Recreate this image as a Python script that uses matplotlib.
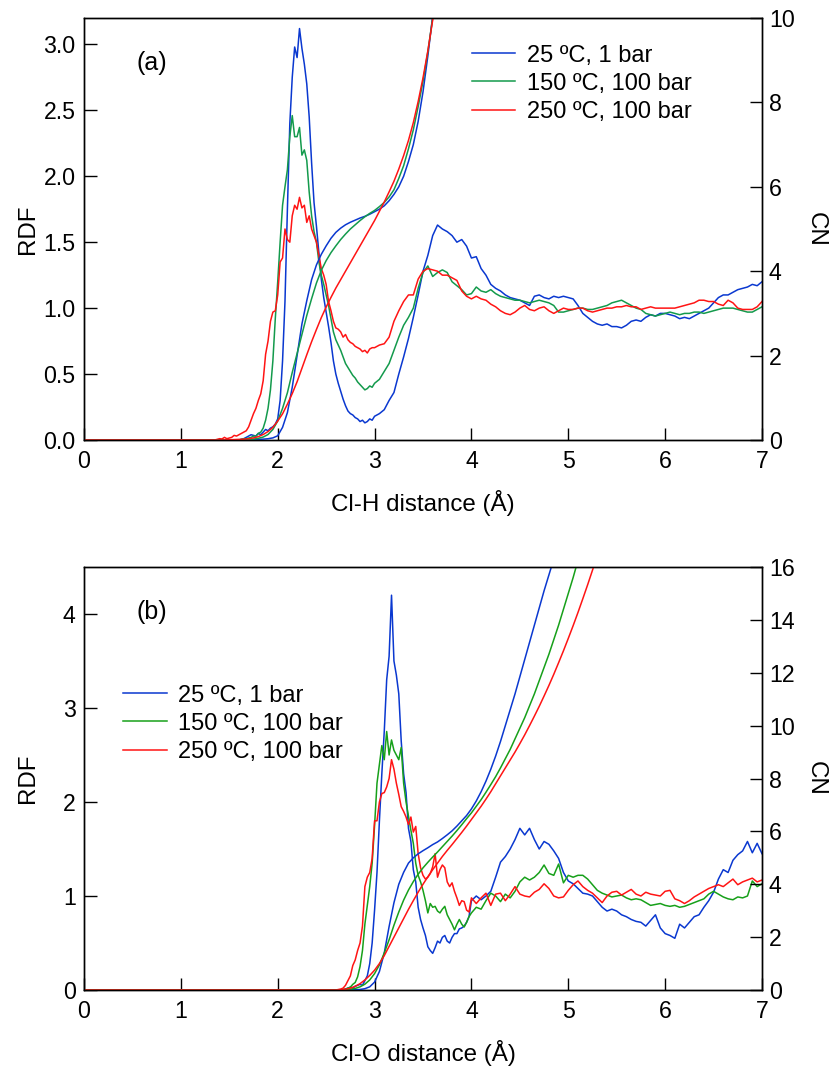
import numpy as np
import matplotlib
matplotlib.use('Agg')
import matplotlib.pyplot as plt
from matplotlib.ticker import FormatStrFormatter

plt.rcParams['font.family'] = ['Liberation Sans', 'DejaVu Sans']

labels = ['25 ºC, 1 bar', '150 ºC, 100 bar', '250 ºC, 100 bar']

# ---------------- Panel (a): Cl-H ----------------
rdf_a_x = np.concatenate([[0.0],
                          np.round(np.arange(1.30, 3.0001, 0.025), 3),
                          np.round(np.arange(3.05, 7.0001, 0.05), 3)])

rdf_a_blue = [0.0,
    0, 0, 0, 0, 0, 0, 0, 0, 0, 0,
    0, 0, 0.0, 0.005, 0.01, 0.02, 0.03, 0.04, 0.035, 0.03,
    0.05, 0.04, 0.06, 0.08, 0.07, 0.09, 0.1, 0.12, 0.16, 0.3,
    0.6, 1.05, 1.75, 2.4, 2.75, 2.98, 2.9, 3.12, 2.97, 2.85,
    2.7, 2.45, 2.1, 1.8, 1.62, 1.42, 1.22, 1.08, 0.97, 0.86,
    0.74, 0.6, 0.5, 0.43, 0.37, 0.31, 0.26, 0.22, 0.2, 0.19,
    0.17, 0.16, 0.14, 0.15, 0.13, 0.14, 0.16, 0.15, 0.18,
    0.2, 0.23, 0.3, 0.36, 0.5, 0.63, 0.77, 0.93, 1.1, 1.28,
    1.4, 1.55, 1.63, 1.6, 1.58, 1.55, 1.5, 1.52, 1.47, 1.38,
    1.39, 1.3, 1.25, 1.18, 1.15, 1.13, 1.1, 1.08, 1.07, 1.06,
    1.04, 1.02, 1.09, 1.1, 1.08, 1.07, 1.09, 1.08, 1.09, 1.08,
    1.07, 1.02, 0.96, 0.93, 0.9, 0.88, 0.87, 0.88, 0.86, 0.86,
    0.85, 0.87, 0.9, 0.91, 0.9, 0.93, 0.95, 0.94, 0.96, 0.96,
    0.95, 0.94, 0.92, 0.93, 0.92, 0.94, 0.96, 0.98, 1.0, 1.04,
    1.08, 1.1, 1.1, 1.12, 1.14, 1.15, 1.16, 1.18, 1.17, 1.2]

rdf_a_green = [0.0,
    0, 0, 0, 0, 0, 0, 0, 0, 0, 0,
    0, 0, 0.0, 0.005, 0.01, 0.01, 0.015, 0.02, 0.03, 0.03,
    0.05, 0.06, 0.09, 0.15, 0.24, 0.38, 0.6, 0.92, 1.2, 1.5,
    1.78, 1.92, 2.05, 2.3, 2.46, 2.3, 2.3, 2.37, 2.16, 2.2,
    2.12, 1.88, 1.7, 1.58, 1.5, 1.35, 1.25, 1.18, 1.1, 1.02,
    0.92, 0.82, 0.76, 0.72, 0.68, 0.63, 0.58, 0.55, 0.52, 0.49,
    0.47, 0.44, 0.42, 0.4, 0.38, 0.39, 0.41, 0.4, 0.43,
    0.46, 0.52, 0.58, 0.68, 0.78, 0.87, 0.93, 1.0, 1.15, 1.27,
    1.32, 1.24, 1.27, 1.29, 1.27, 1.2, 1.17, 1.14, 1.1, 1.11,
    1.16, 1.13, 1.12, 1.14, 1.11, 1.09, 1.08, 1.07, 1.06, 1.06,
    1.05, 1.04, 1.05, 1.06, 1.05, 1.04, 1.02, 0.97, 0.97, 0.98,
    0.99, 1.0, 1.0, 0.99, 0.99, 1.0, 1.01, 1.02, 1.04, 1.05,
    1.06, 1.04, 1.02, 1.0, 0.99, 0.96, 0.95, 0.94, 0.95, 0.96,
    0.97, 0.96, 0.95, 0.96, 0.96, 0.97, 0.97, 0.96, 0.97, 0.98,
    0.99, 1.0, 1.0, 1.0, 0.99, 0.98, 0.97, 0.97, 0.99, 1.01]

rdf_a_red = [0.0,
    0.0, 0.0, 0.0, 0.005, 0.01, 0.008, 0.02, 0.01, 0.015, 0.02,
    0.035, 0.03, 0.04, 0.05, 0.06, 0.07, 0.1, 0.15, 0.2, 0.24,
    0.3, 0.35, 0.45, 0.65, 0.75, 0.9, 0.97, 0.98, 1.1, 1.35,
    1.38, 1.6, 1.52, 1.5, 1.7, 1.78, 1.75, 1.84, 1.76, 1.78,
    1.65, 1.7, 1.6, 1.55, 1.5, 1.4, 1.3, 1.25, 1.18, 1.05,
    0.98, 0.9, 0.85, 0.84, 0.82, 0.78, 0.8, 0.76, 0.74, 0.73,
    0.71, 0.7, 0.69, 0.67, 0.68, 0.66, 0.69, 0.7, 0.7,
    0.72, 0.73, 0.78, 0.9, 0.98, 1.05, 1.1, 1.1, 1.22, 1.28,
    1.3, 1.29, 1.28, 1.25, 1.25, 1.23, 1.21, 1.13, 1.09, 1.07,
    1.09, 1.07, 1.06, 1.03, 1.01, 0.98, 0.96, 0.95, 0.97, 1.0,
    1.02, 0.99, 0.98, 1.0, 1.01, 0.98, 0.96, 0.98, 1.0, 0.99,
    0.99, 1.0, 1.0, 0.98, 0.97, 0.98, 0.99, 1.0, 1.0, 1.01,
    1.01, 1.02, 1.01, 1.01, 0.99, 1.0, 1.01, 1.0, 1.0, 1.0,
    1.0, 1.0, 1.01, 1.02, 1.03, 1.04, 1.06, 1.06, 1.05, 1.05,
    1.03, 1.02, 1.06, 1.04, 1.0, 0.99, 0.99, 0.99, 1.01, 1.05]

cn_a_x = np.concatenate([[0.0], np.round(np.arange(1.40, 3.6501, 0.05), 3)])

cn_a_blue = [0.0,
    0, 0, 0, 0, 0, 0, 0.005, 0.01, 0.015, 0.02,
    0.03, 0.05, 0.1, 0.3, 0.65, 1.25, 2.0, 2.75, 3.3, 3.8,
    4.15, 4.4, 4.6, 4.78, 4.92, 5.02, 5.1, 5.16, 5.21, 5.26,
    5.3, 5.35, 5.41, 5.47, 5.55, 5.67, 5.82, 6.0, 6.25, 6.6,
    7.0, 7.55, 8.25, 9.1, 10.05, 11.0]

cn_a_green = [0.0,
    0, 0, 0, 0, 0.0, 0.005, 0.01, 0.02, 0.04, 0.07,
    0.13, 0.25, 0.45, 0.75, 1.12, 1.6, 2.05, 2.5, 2.95, 3.35,
    3.72, 4.02, 4.25, 4.44, 4.6, 4.75, 4.88, 5.0, 5.1, 5.2,
    5.29, 5.37, 5.44, 5.53, 5.63, 5.76, 5.93, 6.2, 6.5, 6.9,
    7.35, 7.9, 8.5, 9.2, 10.0, 10.9]

cn_a_red = [0.0,
    0.0, 0.002, 0.005, 0.01, 0.015, 0.02, 0.03, 0.05, 0.08, 0.13,
    0.2, 0.3, 0.45, 0.62, 0.85, 1.1, 1.38, 1.7, 2.02, 2.33,
    2.62, 2.9, 3.15, 3.38, 3.6, 3.8, 4.0, 4.2, 4.4, 4.6,
    4.8, 5.0, 5.2, 5.42, 5.64, 5.88, 6.13, 6.42, 6.74, 7.1,
    7.52, 8.02, 8.58, 9.22, 9.95, 10.8]

# ---------------- Panel (b): Cl-O ----------------
rdf_b_x = np.concatenate([[0.0],
                          np.round(np.arange(2.60, 4.0001, 0.025), 3),
                          np.round(np.arange(4.05, 7.0001, 0.05), 3)])

rdf_b_blue = [0.0,
    0, 0, 0, 0.0, 0.01, 0.02, 0.03, 0.02, 0.04, 0.05,
    0.06, 0.05, 0.1, 0.15, 0.28, 0.5, 0.85, 1.25, 1.8, 2.3,
    2.75, 3.3, 3.55, 4.2, 3.5, 3.35, 3.15, 2.65, 2.3, 2.1,
    1.72, 1.58, 1.28, 1.15, 0.88, 0.75, 0.66, 0.58, 0.46, 0.42,
    0.39, 0.45, 0.52, 0.5, 0.56, 0.58, 0.52, 0.5, 0.56, 0.6,
    0.6, 0.65, 0.66, 0.68, 0.72, 0.78, 0.95,
    1.0, 0.96, 1.0, 1.05, 1.2, 1.36, 1.42, 1.5, 1.6, 1.72,
    1.65, 1.72, 1.6, 1.5, 1.58, 1.55, 1.48, 1.4, 1.25, 1.16,
    1.13, 1.08, 1.03, 1.02, 1.0, 0.94, 0.88, 0.84, 0.86, 0.84,
    0.8, 0.78, 0.75, 0.73, 0.72, 0.68, 0.74, 0.8, 0.66, 0.6,
    0.58, 0.55, 0.7, 0.66, 0.72, 0.78, 0.8, 0.88, 0.95, 1.04,
    1.18, 1.28, 1.25, 1.38, 1.44, 1.48, 1.58, 1.46, 1.56, 1.45]

rdf_b_green = [0.0,
    0, 0, 0.0, 0.005, 0.01, 0.02, 0.03, 0.06, 0.08, 0.14,
    0.25, 0.42, 0.7, 0.9, 1.1, 1.35, 1.75, 2.2, 2.4, 2.6,
    2.45, 2.75, 2.5, 2.66, 2.55, 2.5, 2.45, 2.58, 2.2, 2.0,
    1.85, 1.7, 1.56, 1.35, 1.22, 1.15, 1.06, 0.95, 0.82, 0.92,
    0.88, 0.89, 0.84, 0.82, 0.86, 0.89, 0.8, 0.75, 0.7, 0.64,
    0.7, 0.75, 0.7, 0.67, 0.72, 0.78, 0.82,
    0.88, 0.86, 0.95, 1.03, 1.0, 0.94, 1.02, 0.98, 1.05, 1.15,
    1.2, 1.17, 1.2, 1.25, 1.33, 1.24, 1.22, 1.34, 1.14, 1.22,
    1.2, 1.22, 1.22, 1.18, 1.12, 1.06, 1.03, 1.01, 0.99, 1.0,
    1.01, 0.98, 0.96, 0.97, 0.96, 0.93, 0.9, 0.91, 0.92, 0.9,
    0.89, 0.9, 0.88, 0.89, 0.91, 0.93, 0.95, 0.97, 1.02, 1.05,
    1.02, 0.99, 0.97, 0.96, 0.99, 0.98, 1.0, 1.16, 1.1, 1.13]

rdf_b_red = [0.0,
    0.0, 0.005, 0.01, 0.02, 0.05, 0.1, 0.15, 0.26, 0.32, 0.42,
    0.5, 0.68, 1.1, 1.2, 1.25, 1.4, 1.8, 1.8, 2.0, 2.09,
    2.1, 2.16, 2.25, 2.45, 2.35, 2.2, 2.08, 1.95, 1.9, 1.84,
    1.76, 1.84, 1.68, 1.74, 1.45, 1.3, 1.22, 1.18, 1.2, 1.24,
    1.31, 1.45, 1.2, 1.28, 1.33, 1.3, 1.15, 1.1, 1.14, 1.05,
    0.98, 0.9, 0.95, 0.94, 0.85, 0.83, 0.98,
    0.92, 0.98, 1.03, 0.9, 1.02, 1.03, 0.95, 1.02, 1.1, 1.02,
    1.0, 0.99, 1.04, 1.07, 1.13, 1.08, 1.0, 0.98, 0.99, 1.06,
    1.12, 1.16, 1.1, 1.06, 1.03, 0.98, 0.93, 1.0, 1.04, 1.05,
    1.01, 1.04, 1.07, 1.02, 1.0, 1.04, 1.02, 1.01, 1.0, 1.05,
    1.06, 0.97, 0.95, 0.92, 0.95, 0.99, 1.02, 1.05, 1.08, 1.1,
    1.12, 1.1, 1.14, 1.18, 1.12, 1.15, 1.17, 1.19, 1.15, 1.17]

cn_b_x = np.concatenate([[0.0], np.round(np.arange(2.60, 5.4001, 0.05), 3)])

cn_b_blue = [0.0,
    0, 0, 0.0, 0.005, 0.01, 0.02, 0.05, 0.12, 0.3, 0.7,
    1.4, 2.4, 3.3, 4.0, 4.45, 4.8, 5.0, 5.15, 5.27, 5.38,
    5.5, 5.6, 5.73, 5.87, 6.02, 6.2, 6.4, 6.6, 6.85, 7.15,
    7.5, 7.9, 8.35, 8.85, 9.4, 10.0, 10.6, 11.2, 11.85, 12.5,
    13.15, 13.8, 14.45, 15.1, 15.7, 16.3]

cn_b_green = [0.0,
    0, 0.0, 0.01, 0.03, 0.06, 0.12, 0.22, 0.38, 0.62, 0.95,
    1.4, 1.9, 2.45, 2.95, 3.4, 3.78, 4.1, 4.38, 4.62, 4.83,
    5.03, 5.22, 5.42, 5.62, 5.82, 6.03, 6.25, 6.48, 6.7, 6.95,
    7.2, 7.48, 7.77, 8.07, 8.4, 8.75, 9.1, 9.5, 9.9, 10.3,
    10.75, 11.2, 11.7, 12.2, 12.7, 13.25, 13.8, 14.4, 15.0, 15.6,
    16.25]

cn_b_red = [0.0,
    0.0, 0.01, 0.03, 0.07, 0.14, 0.24, 0.38, 0.55, 0.75, 1.0,
    1.3, 1.65, 2.0, 2.35, 2.7, 3.05, 3.38, 3.7, 4.0, 4.28,
    4.55, 4.8, 5.05, 5.28, 5.5, 5.73, 5.96, 6.2, 6.45, 6.7,
    6.95, 7.22, 7.5, 7.8, 8.1, 8.4, 8.7, 9.0, 9.32, 9.65,
    10.0, 10.36, 10.73, 11.12, 11.52, 11.94, 12.38, 12.83, 13.3, 13.78,
    14.28, 14.8, 15.33, 15.88, 16.45]

# ---------------- Drawing ----------------
BLUE = '#0a38d0'
GREEN_A = '#139a4c'
GREEN_B = '#17a01a'
RED = '#ff1414'
FS_TICK = 16.7
FS_LABEL = 17.4
FS_LEG = 17
FS_TAG = 18

W, H = 830, 1066
fig = plt.figure(figsize=(W / 100, H / 100), dpi=100)


def fit(x, y):
    n = min(len(x), len(y))
    return np.asarray(x[:n]), np.asarray(y[:n], dtype=float)


def panel(rect, rdf_x, rdfs, cn_x, cns, green, ylim_rdf, rdf_ticks, rdf_fmt,
          ylim_cn, cn_ticks, xlabel, tag, leg_anchor):
    ax = fig.add_axes(rect)
    tw = ax.twinx()
    cols = [BLUE, green, RED]
    handles = []
    for yv, c in zip(rdfs, cols):
        xx, yy = fit(rdf_x, yv)
        h, = ax.plot(xx, yy, color=c, lw=1.1)
        handles.append(h)
    for yv, c in zip(cns, cols):
        xx, yy = fit(cn_x, yv)
        tw.plot(xx, yy, color=c, lw=1.1)
    ax.set_xlim(0, 7)
    ax.set_ylim(*ylim_rdf)
    tw.set_ylim(*ylim_cn)
    ax.set_xticks(range(0, 8))
    ax.set_yticks(rdf_ticks)
    ax.yaxis.set_major_formatter(FormatStrFormatter(rdf_fmt))
    tw.set_yticks(cn_ticks)
    for a in (ax, tw):
        for s in a.spines.values():
            s.set_linewidth(1.0)
    ax.tick_params(axis='x', direction='in', length=9, width=1.0,
                   labelsize=FS_TICK, top=False, pad=7)
    ax.tick_params(axis='y', direction='in', length=9, width=1.0,
                   labelsize=FS_TICK, right=False, pad=6)
    tw.tick_params(axis='y', direction='in', length=9, width=1.0,
                   labelsize=FS_TICK, pad=5)
    ax.set_xlabel(xlabel, fontsize=FS_LABEL)
    ax.xaxis.set_label_coords(0.5, -0.15)
    ax.xaxis.label.set_va('center')
    ax.set_ylabel('RDF', fontsize=FS_LABEL)
    ax.yaxis.set_label_coords(-0.083, 0.5)
    ax.yaxis.label.set_va('center')
    tw.set_ylabel('CN', fontsize=FS_LABEL, rotation=-90)
    tw.yaxis.set_label_coords(1.08, 0.5)
    tw.yaxis.label.set_va('center')
    tw.yaxis.label.set_ha('center')
    ax.text(0.078, 0.893, tag, transform=ax.transAxes, fontsize=FS_TAG,
            ha='left', va='center')
    tw.legend(handles, labels, loc='upper left', bbox_to_anchor=leg_anchor,
              frameon=False, fontsize=FS_LEG, handlelength=1.85,
              handletextpad=0.5, labelspacing=0.26, borderpad=0,
              borderaxespad=0)
    return ax, tw


rect_a = [84 / W, 1 - 440 / H, 678 / W, 422 / H]
rect_b = [84 / W, 1 - 990 / H, 678 / W, 423 / H]

panel(rect_a, rdf_a_x, [rdf_a_blue, rdf_a_green, rdf_a_red],
      cn_a_x, [cn_a_blue, cn_a_green, cn_a_red], GREEN_A,
      (0, 3.2), np.arange(0, 3.01, 0.5), '%.1f', (0, 10), range(0, 11, 2),
      'Cl-H distance (Å)', '(a)', (0.572, 0.937))

panel(rect_b, rdf_b_x, [rdf_b_blue, rdf_b_green, rdf_b_red],
      cn_b_x, [cn_b_blue, cn_b_green, cn_b_red], GREEN_B,
      (0, 4.5), range(0, 5), '%d', (0, 16), range(0, 17, 2),
      'Cl-O distance (Å)', '(b)', (0.0575, 0.722))

fig.savefig('out.png', dpi=100)
